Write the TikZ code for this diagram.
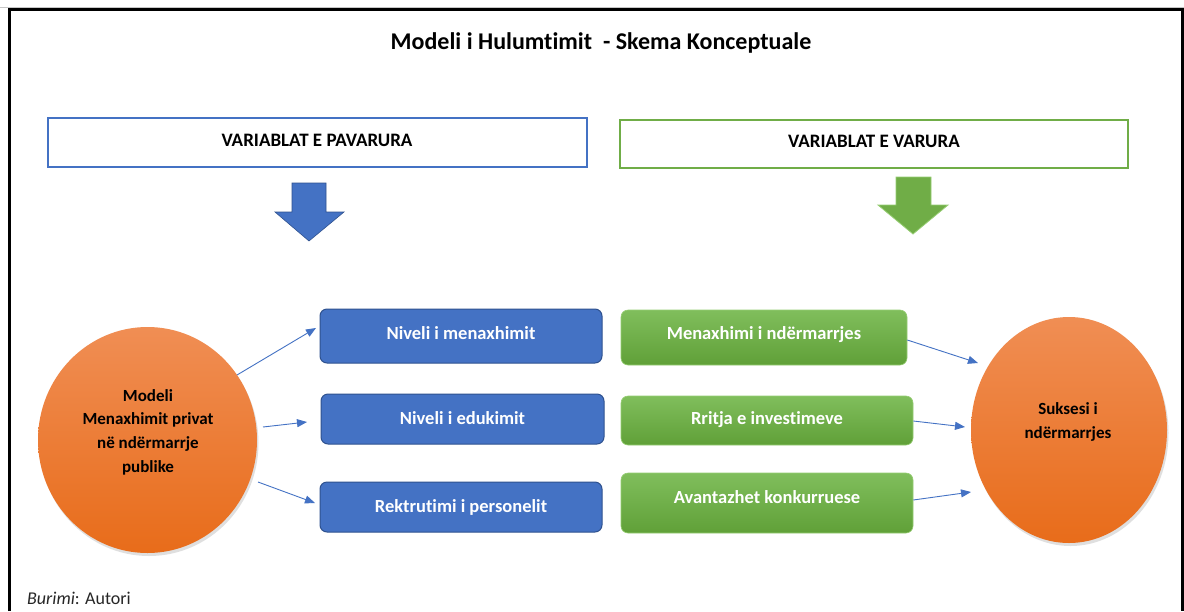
\documentclass[tikz,border=0pt]{standalone}
\usepackage{fontspec}
\setmainfont{Carlito}[Ligatures=NoCommon]
\usetikzlibrary{arrows.meta,shadows,shapes.geometric}
\definecolor{accblue}{RGB}{68,114,196}
\definecolor{accblueDk}{RGB}{47,82,143}
\definecolor{accgreen}{RGB}{112,173,71}
\definecolor{greenTop}{RGB}{128,190,92}
\definecolor{greenBot}{RGB}{96,160,56}
\definecolor{greenEdge}{RGB}{150,205,115}
\definecolor{orangeTop}{RGB}{240,142,84}
\definecolor{orangeBot}{RGB}{232,108,26}
\tikzset{
  headbox/.style={draw, line width=1.3pt, fill=white, inner sep=0pt},
  headtext/.style={font=\bfseries\fontsize{19}{22}\selectfont, inner sep=0pt},
  bluebox/.style={draw=accblueDk, line width=1pt, fill=accblue, rounded corners=7pt, inner sep=0pt},
  greenbox/.style={draw=greenEdge, line width=0.6pt, top color=greenTop, bottom color=greenBot, rounded corners=7pt, inner sep=0pt},
  bubble/.style={ellipse, draw=none, top color=orangeTop, bottom color=orangeBot, inner sep=0pt,
    drop shadow={shadow xshift=1.5pt, shadow yshift=-3pt, opacity=0.25}},
  boxtext/.style={font=\bfseries\fontsize{18.5}{22}\selectfont, text=white, text height=12.5pt, text depth=4pt, inner sep=0pt},
  bubbletext/.style={font=\bfseries\fontsize{17}{23.7}\selectfont, align=center, inner sep=0pt},
  conn/.style={draw=accblue, line width=0.9pt, -{Triangle[length=10pt,width=8pt]}},
}
\begin{document}
\begin{tikzpicture}[x=1pt,y=-1pt]
\useasboundingbox (0,0) rectangle (1184,611);
\fill[white] (0,0) rectangle (1184,611);
% outer frame
\draw[gray!45, line width=1pt] (0,7) -- (1184,7);
\draw[black, line width=3pt] (9,611) -- (9,9.5) -- (1182,9.5) -- (1182,611);

% title
\node[font=\bfseries\fontsize{24}{28}\selectfont, inner sep=0pt] (title) at (601,43) {Modeli i Hulumtimit\ \ - Skema Konceptuale};

% header boxes
\node[headbox, draw=accblue, minimum width=539pt, minimum height=49pt] (indep) at (317.5,142.5) {};
\node[headtext] (indept) at (317,140) {VARIABLAT E PAVARURA};
\node[headbox, draw=accgreen, minimum width=508pt, minimum height=48pt] (dep) at (874,144) {};
\node[headtext] (dept) at (874,141) {VARIABLAT E VARURA};

% block arrows below the headers
\filldraw[fill=accblue, draw=accblueDk, line width=0.6pt]
  (292,183) -- (326,183) -- (326,212) -- (344,212) -- (309,241) -- (275,212) -- (292,212) -- cycle;
\filldraw[fill=accgreen, draw=greenEdge, line width=0.8pt]
  (896,177) -- (931,177) -- (931,205) -- (948,205) -- (913,234) -- (878,205) -- (896,205) -- cycle;

% bubbles
\node[bubble, minimum width=219pt, minimum height=226pt] (model) at (147.5,440) {};
\node[bubbletext] (modelt) at (148,432) {Modeli\\Menaxhimit privat\\në ndërmarrje\\publike};
\node[bubble, minimum width=196pt, minimum height=226pt] (success) at (1069,430) {};
\node[bubbletext] (successt) at (1068,422) {Suksesi i\\ndërmarrjes};

% independent variables
\node[bluebox, minimum width=282pt, minimum height=54pt] (b1) at (461,336) {};
\node[boxtext] (b1t) at (461,335.5) {Niveli i menaxhimit};
\node[bluebox, minimum width=283pt, minimum height=50pt] (b2) at (462.5,419) {};
\node[boxtext] (b2t) at (462.5,420.5) {Niveli i edukimit};
\node[bluebox, minimum width=282pt, minimum height=50pt] (b3) at (461,507) {};
\node[boxtext] (b3t) at (461,508.5) {Rektrutimi i personelit};

% dependent variables
\node[greenbox, minimum width=286pt, minimum height=55pt] (g1) at (764,337.5) {};
\node[boxtext] (g1t) at (764,335.5) {Menaxhimi i ndërmarrjes};
\node[greenbox, minimum width=292pt, minimum height=49pt] (g2) at (767,420.5) {};
\node[boxtext] (g2t) at (767,420.5) {Rritja e investimeve};
\node[greenbox, minimum width=292pt, minimum height=60pt] (g3) at (767,503) {};
\node[boxtext] (g3t) at (767,499.5) {Avantazhet konkurruese};

% connector end points
\coordinate (m1) at (237,375);
\coordinate (m2) at (263,427);
\coordinate (m3) at (258,482);
\coordinate (e1) at (316,328);
\coordinate (e2) at (307,422);
\coordinate (e3) at (315,503);
\coordinate (s1) at (978,363);
\coordinate (s2) at (965,427);
\coordinate (s3) at (971,492);

\draw[conn] (m1) -- (e1);
\draw[conn] (m2) -- (e2);
\draw[conn] (m3) -- (e3);
\draw[conn] (g1.east |- 0,340) -- (s1);
\draw[conn] (g2.east |- 0,421) -- (s2);
\draw[conn] (g3.east |- 0,500) -- (s3);

% source note
\node[anchor=base west, font=\fontsize{18}{21}\selectfont, inner sep=0pt, text=black!85] (src) at (27,604) {\textit{Burimi}: Autori};
\end{tikzpicture}
\end{document}
